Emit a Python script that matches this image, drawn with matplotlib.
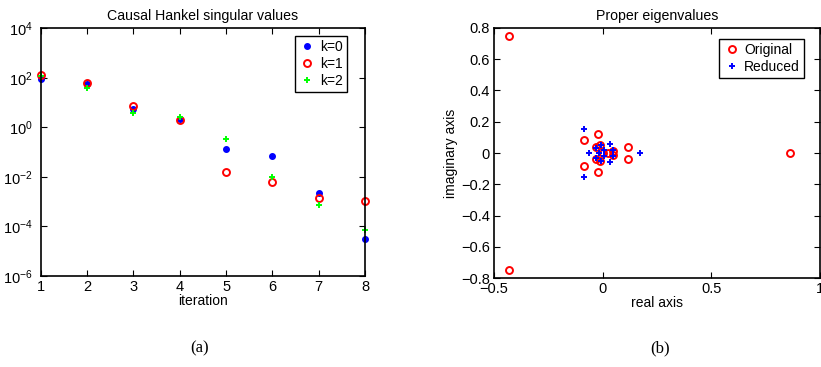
import matplotlib
matplotlib.use("Agg")
import matplotlib.pyplot as plt
from matplotlib.ticker import FixedLocator, FuncFormatter, NullLocator

plt.rcParams['font.family'] = ['Liberation Sans', 'DejaVu Sans']
plt.rcParams['axes.unicode_minus'] = True

# ---- data: (a) causal Hankel singular values ----
iterations = [1, 2, 3, 4, 5, 6, 7, 8]
k0 = [87, 55, 5.4, 2.2, 0.134, 0.068, 2.2e-3, 3.0e-5]
k1 = [126, 60, 7.3, 2.0, 0.016, 6.4e-3, 1.45e-3, 1.07e-3]
k2 = [119, 39, 3.7, 2.7, 0.33, 0.0102, 7.1e-4, 7.4e-5]
series_labels = ['k=0', 'k=1', 'k=2']
log_ticks = [1e-6, 1e-4, 1e-2, 1e0, 1e2, 1e4]

# ---- data: (b) proper eigenvalues ----
orig_re = [-0.43, -0.43, 0.86, -0.088, -0.088, -0.023, -0.023, 0.117, 0.117,
           -0.032, -0.032, -0.012, -0.012, 0.049, 0.049, 0.026, 0.0]
orig_im = [0.75, -0.75, 0.0, 0.084, -0.084, 0.12, -0.12, 0.039, -0.039,
           0.037, -0.037, 0.049, -0.049, 0.012, -0.012, 0.0, 0.0]
red_re = [-0.084, -0.084, -0.061, -0.032, -0.032, -0.008, -0.008, 0.033, 0.033,
          0.173, -0.017, 0.008, 0.008, 0.049, 0.049]
red_im = [0.152, -0.152, 0.0, 0.031, -0.031, 0.049, -0.049, 0.056, -0.056,
          0.0, 0.0, 0.02, -0.02, 0.02, -0.02]
x_ticks_b = [-0.5, 0, 0.5, 1.0]
y_ticks_b = [-0.8, -0.6, -0.4, -0.2, 0, 0.2, 0.4, 0.6, 0.8]

fig = plt.figure(figsize=(8.21, 3.67), dpi=100)

def matlab_style(ax):
    for s in ax.spines.values():
        s.set_linewidth(1.2)
    ax.tick_params(direction='in', top=True, right=True, labelsize=10.5,
                   length=4, width=0.8, pad=3)

leg_kw = dict(loc='upper right', fontsize=10, fancybox=False, framealpha=1,
              edgecolor='black', handletextpad=0.3, borderpad=0.3,
              labelspacing=0.2, handlelength=1.2, borderaxespad=0.0)

# (a)
ax1 = fig.add_axes([0.0496, 0.248, 0.395, 0.675])
ax1.semilogy(iterations, k0, linestyle='none', marker='.', color=(0, 0, 1),
             markersize=8, label=series_labels[0], clip_on=False)
ax1.semilogy(iterations, k1, linestyle='none', marker='o', color=(1, 0, 0),
             markerfacecolor='none', markersize=5, markeredgewidth=1.4,
             label=series_labels[1], clip_on=False)
ax1.semilogy(iterations, k2, linestyle='none', marker='+', color=(0, 1, 0),
             markersize=5, markeredgewidth=1.4, label=series_labels[2],
             clip_on=False)
ax1.set_xlim(1, 8)
ax1.set_ylim(1e-6, 1e4)
ax1.yaxis.set_major_locator(FixedLocator(log_ticks))
ax1.yaxis.set_minor_locator(NullLocator())
ax1.set_xticks(iterations)
matlab_style(ax1)
ax1.tick_params(axis='y', pad=6, labelsize=10.5)
ax1.set_title('Causal Hankel singular values', fontsize=10.2, pad=6)
ax1.set_xlabel('iteration', fontsize=10, labelpad=0)
leg1 = ax1.legend(bbox_to_anchor=(0.944, 0.969), **leg_kw)
leg1.get_frame().set_linewidth(1.0)

# (b)
ax2 = fig.add_axes([0.6017, 0.242, 0.397, 0.682])
ax2.plot(orig_re, orig_im, linestyle='none', marker='o', color=(1, 0, 0),
         markerfacecolor='none', markersize=5, markeredgewidth=1.4,
         label='Original', clip_on=False)
ax2.plot(red_re, red_im, linestyle='none', marker='+', color=(0, 0, 1),
         markersize=5, markeredgewidth=1.4, label='Reduced', clip_on=False)
ax2.set_xlim(-0.5, 1.0)
ax2.set_ylim(-0.8, 0.8)
ax2.set_xticks(x_ticks_b)
ax2.set_yticks(y_ticks_b)
fmt = FuncFormatter(lambda v, p: ('%g' % round(v, 3)).replace('-', '\u2212'))
ax2.xaxis.set_major_formatter(fmt)
ax2.yaxis.set_major_formatter(fmt)
matlab_style(ax2)
ax2.set_title('Proper eigenvalues', fontsize=10.2, pad=6)
ax2.set_xlabel('real axis', fontsize=10, labelpad=0)
ax2.set_ylabel('imaginary axis', fontsize=10, labelpad=2)
leg2 = ax2.legend(bbox_to_anchor=(0.951, 0.956), **leg_kw)
leg2.get_frame().set_linewidth(1.0)

# captions
fig.text(200 / 821, 1 - 348 / 367, '(a)', ha='center', va='center',
         fontsize=12, family=['Liberation Serif', 'DejaVu Serif'])
fig.text(660 / 821, 1 - 348 / 367, '(b)', ha='center', va='center',
         fontsize=12, family=['Liberation Serif', 'DejaVu Serif'])

fig.savefig('out.png', dpi=100)
